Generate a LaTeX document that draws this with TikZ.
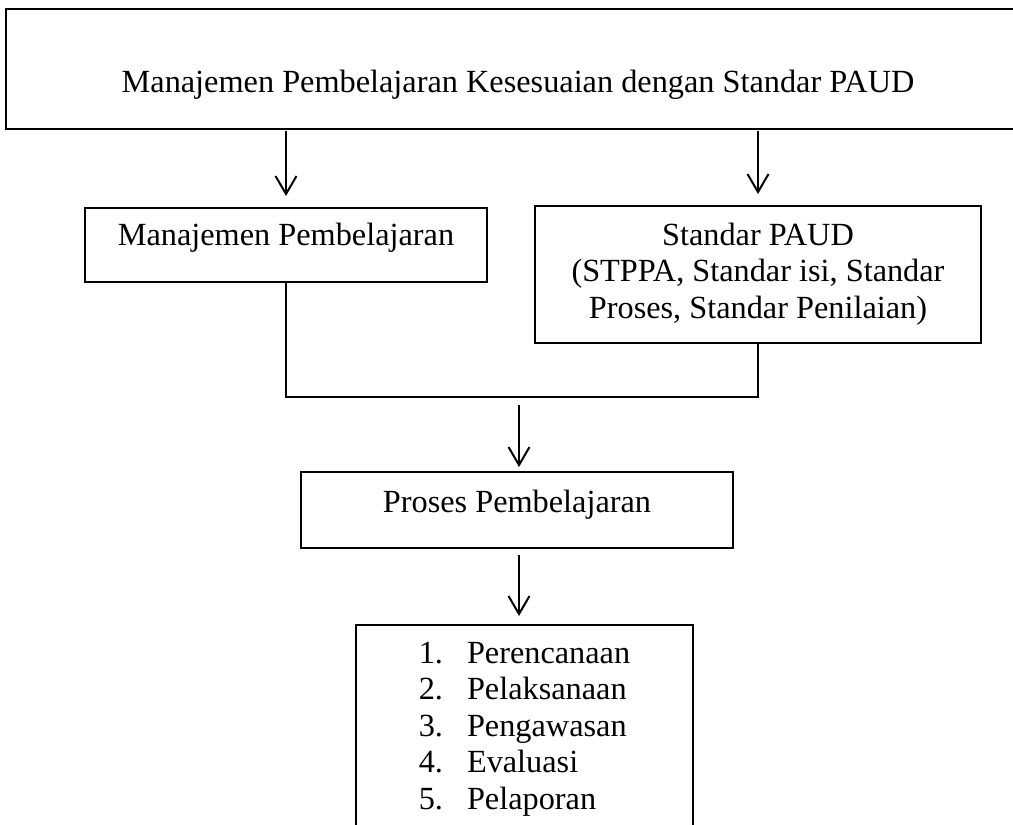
\documentclass[tikz,border=0pt]{standalone}
\usepackage{fontspec}
\setmainfont{Liberation Serif}
\usetikzlibrary{arrows.meta}
\begin{document}
\begin{tikzpicture}[x=1pt,y=-1pt,
    font=\fontsize{32.3}{36.6}\selectfont,
    kotak/.style={draw,line width=2.1pt,inner xsep=0pt,inner ysep=0pt,outer sep=0pt,anchor=north},
    panah/.style={-{Straight Barb[length=18pt,width=21pt,line width=2pt]},line width=2pt}]
  \useasboundingbox (0,0) rectangle (1013,825);
  \clip (0,0) rectangle (1013,825);
  \node[kotak,minimum width=1024pt,text height=83pt,text depth=37pt] (judul) at (518,9)
    {Manajemen Pembelajaran Kesesuaian dengan Standar PAUD};
  \node[kotak,minimum width=402pt,text height=37pt,text depth=37pt] (mp) at (286,208)
    {Manajemen Pembelajaran};
  \node[kotak,minimum width=446pt,text height=39pt,text depth=98pt] (sp) at (758,206)
    {\begin{tabular}[t]{@{}c@{}}Standar PAUD\\(STPPA, Standar isi, Standar\\Proses, Standar Penilaian)\end{tabular}};
  \node[kotak,minimum width=432pt,text height=40pt,text depth=36pt] (proses) at (517,472)
    {Proses Pembelajaran};
  \node[kotak,minimum width=337pt,text height=38pt,text depth=220pt] (tahap) at (524.5,625)
    {\begin{tabular}[t]{@{}l@{\hspace{24pt}}l@{}}
      1.&Perencanaan\\ 2.&Pelaksanaan\\ 3.&Pengawasan\\ 4.&Evaluasi\\ 5.&Pelaporan
    \end{tabular}};
  \coordinate (gabung) at (519,397);
  % panah dari judul ke dua kotak
  \draw[panah,shorten <=2pt,shorten >=12pt] (judul.south -| mp.north) -- (mp.north);
  \draw[panah,shorten <=2pt,shorten >=12pt] (judul.south -| sp.north) -- (sp.north);
  % garis gabungan
  \draw[line width=2pt] (mp.south) |- (gabung) -| (sp.south);
  \draw[panah,shorten <=8pt,shorten >=5pt] (gabung) -- (proses.north -| gabung);
  \draw[panah,shorten <=7pt,shorten >=9pt] (proses.south -| gabung) -- (tahap.north -| gabung);
\end{tikzpicture}
\end{document}
